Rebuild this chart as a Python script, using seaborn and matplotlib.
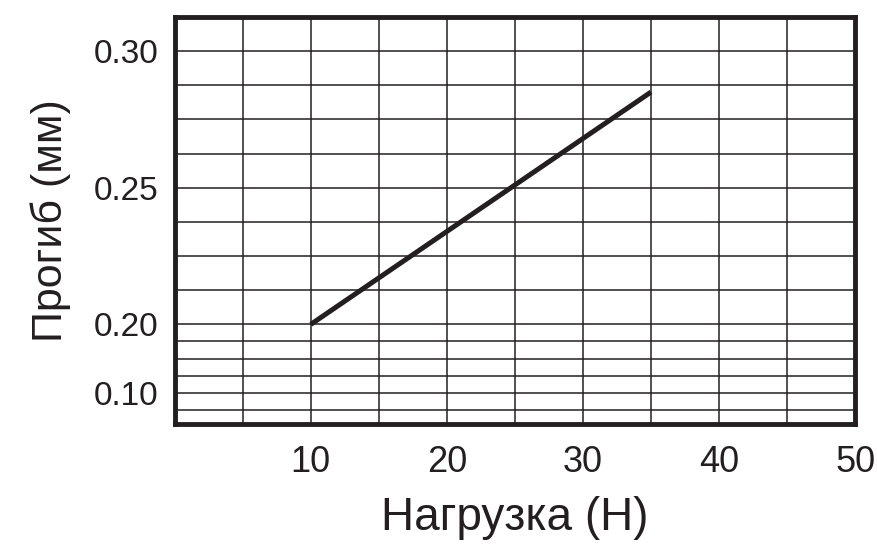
import numpy as np
import pandas as pd
import matplotlib
matplotlib.use("Agg")
import matplotlib.pyplot as plt
import seaborn as sns

# data
load_n = [10, 15, 20, 25, 30, 35]
deflection_mm = [0.200, 0.217, 0.234, 0.251, 0.268, 0.285]

x_major = [10, 20, 30, 40, 50]
x_minor = [5, 15, 25, 35, 45]
y_major = [0.10, 0.20, 0.25, 0.30]
y_major_labels = ["0.10", "0.20", "0.25", "0.30"]
y_minor = [0.075, 0.125, 0.15, 0.175, 0.2125, 0.225, 0.2375, 0.2625, 0.275, 0.2875]

df = pd.DataFrame({"load": load_n, "deflection": deflection_mm})

# broken y scale: 0.0125 steps above 0.20, 0.025 steps (half height) below
def fwd(v):
    v = np.asarray(v, dtype=float)
    return np.where(v >= 0.2, (v - 0.2) * 2.0, (v - 0.2) * 0.5)

def inv(p):
    p = np.asarray(p, dtype=float)
    return np.where(p >= 0, p / 2.0 + 0.2, p / 0.5 + 0.2)

sns.set_style("white")
plt.rcParams['font.family'] = ['Liberation Sans', 'DejaVu Sans']
ink = "#231f20"

fig = plt.figure(figsize=(8.78, 5.44), dpi=100)
ax = fig.add_axes([0.199, 0.221, 0.775, 0.748])

ax.set_yscale("function", functions=(fwd, inv))
sns.lineplot(data=df, x="load", y="deflection", ax=ax, color=ink, linewidth=3.6,
             solid_capstyle="butt", zorder=5)

ax.set_xlim(0, 50)
ax.set_ylim(0.0545, 0.3125)

ax.set_xticks(x_major)
ax.set_xticks(x_minor, minor=True)
ax.set_xticklabels([str(v) for v in x_major])
ax.set_yticks(y_major)
ax.set_yticks(y_minor, minor=True)
ax.set_yticklabels(y_major_labels)
ax.yaxis.set_minor_formatter(plt.NullFormatter())

ax.grid(True, which="both", color=ink, linewidth=1.1)
ax.tick_params(which="both", length=0)
ax.tick_params(axis="y", pad=12, labelsize=24, labelcolor=ink)
ax.tick_params(axis="x", pad=15, labelsize=26, labelcolor=ink)

for s in ax.spines.values():
    s.set_visible(True)
    s.set_color(ink)
    s.set_linewidth(3.5)
    s.set_zorder(6)

ax.set_xlabel("Нагрузка (Н)", fontsize=33, color=ink, labelpad=12)
ax.set_ylabel("Прогиб (мм)", fontsize=31, color=ink, labelpad=16)

plt.savefig("out.png", dpi=100)
plt.close()
